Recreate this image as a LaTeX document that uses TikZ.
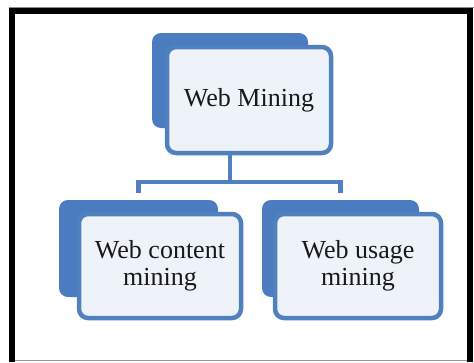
\documentclass[tikz,border=0pt]{standalone}
\usepackage{fontspec}
\setmainfont{Liberation Serif}
\definecolor{backblue}{HTML}{4A7CBF}
\definecolor{edgeblue}{HTML}{5080BE}
\definecolor{paneltint}{HTML}{EEF3FA}
\tikzset{
  backcard/.style={draw=none, fill=backblue, rounded corners=9pt, inner sep=0pt},
  frontcard/.style={draw=edgeblue, line width=4.5pt, fill=paneltint, rounded corners=9pt,
    inner sep=0pt, align=center, font=\fontsize{26}{27}\selectfont, text=black!90},
  conn/.style={draw=edgeblue, line width=4.5pt},
  frameline/.style={draw=black, line width=6pt}
}
\begin{document}
\begin{tikzpicture}[x=1pt, y=-1pt]
  \useasboundingbox (0,0) rectangle (474,362);
  \fill[white] (0,0) rectangle (474,362);

  % outer frame
  \draw[frameline] (12,362) -- (12,11) -- (470,11) -- (470,362);
  \draw[black!45, line width=0.8pt] (9,7.5) -- (474,7.5);
  \draw[black!40, line width=1pt] (15,360.5) -- (467,360.5);

  % back cards
  \node[backcard, minimum width=156pt, minimum height=95pt] (tb) at (230,80.5) {};
  \node[backcard, minimum width=159pt, minimum height=97pt] (lb) at (138.5,248.5) {};
  \node[backcard, minimum width=157pt, minimum height=97pt] (rb) at (340.5,248.5) {};

  % tree connectors
  \coordinate (bus) at (230,182);
  \draw[conn] (tb.south) -- (bus);
  \draw[conn, line cap=butt] ([yshift=7pt]lb.north) |- (bus) -| ([yshift=7pt]rb.north);

  % front cards with labels
  \node[frontcard, minimum width=164pt, minimum height=106pt] (top) at (249,100) {Web Mining};
  \node[frontcard, minimum width=162pt, minimum height=104pt] (content) at (160,266) {Web content\\mining};
  \node[frontcard, minimum width=166pt, minimum height=104pt] (usage) at (358,266) {Web usage\\mining};
\end{tikzpicture}
\end{document}
